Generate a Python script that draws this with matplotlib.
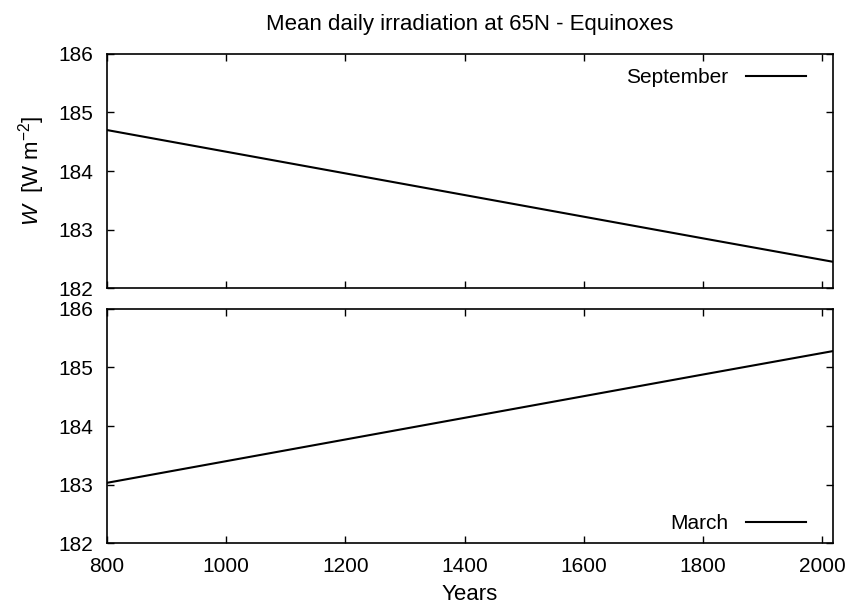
import matplotlib.pyplot as plt
import numpy as np

plt.rcParams['font.family'] = ['Liberation Sans', 'DejaVu Sans']
plt.rcParams['font.size'] = 15
plt.rcParams['mathtext.fontset'] = 'custom'
plt.rcParams['mathtext.it'] = 'Liberation Sans:italic'
plt.rcParams['mathtext.rm'] = 'Liberation Sans'

# Valores
years = [800, 1000, 1200, 1400, 1600, 1800, 2018]
september = [184.70, 184.33, 183.96, 183.59, 183.22, 182.85, 182.45]
march = [183.03, 183.40, 183.77, 184.14, 184.51, 184.88, 185.28]

fig = plt.figure(figsize=(8.49, 6.13), dpi=100)
ax1 = fig.add_axes([0.126, 0.530, 0.855, 0.382])
ax2 = fig.add_axes([0.126, 0.114, 0.855, 0.382])

ax1.plot(years, september, color='black', lw=1.5, label='September')
ax2.plot(years, march, color='black', lw=1.5, label='March')

for ax in (ax1, ax2):
    ax.set_xlim(800, 2018)
    ax.set_ylim(182, 186)
    ax.set_xticks(np.arange(800, 2001, 200))
    ax.set_yticks(np.arange(182, 186.1, 1))
    ax.tick_params(direction='in', top=True, right=True, length=5, width=1)
    ax.tick_params(axis='y', pad=10)
    ax.tick_params(axis='x', pad=10)
    for s in ax.spines.values():
        s.set_linewidth(1.2)

ax1.legend(loc='upper right', bbox_to_anchor=(0.963, 0.94), frameon=False,
           markerfirst=False, handlelength=2.9, handletextpad=0.85,
           borderpad=0, borderaxespad=0)
ax2.legend(loc='lower right', bbox_to_anchor=(0.963, 0.043), frameon=False,
           markerfirst=False, handlelength=2.9, handletextpad=0.85,
           borderpad=0, borderaxespad=0)

ax1.set_xticklabels([])
ax1.set_ylabel(r'$W$  [W m$^{-2}$]', fontsize=16, labelpad=8)
ax2.set_xlabel('Years', fontsize=16, labelpad=6)
ax1.set_title('Mean daily irradiation at 65N - Equinoxes', fontsize=16, pad=17)

fig.savefig('out.png', dpi=100)
